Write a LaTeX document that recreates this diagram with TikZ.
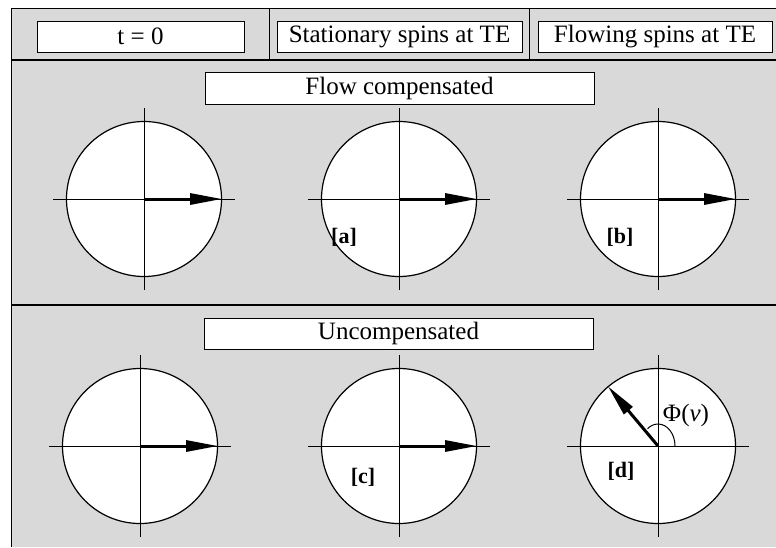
\documentclass[tikz,border=0pt]{standalone}
\usepackage{fontspec}
\setmainfont{Liberation Serif}
\usetikzlibrary{arrows.meta}
\definecolor{panel}{HTML}{D9D9D9}
\begin{document}
\begin{tikzpicture}[x=1pt,y=-1pt,
  labelbox/.style={draw=black, line width=1pt, fill=white, inner sep=0pt,
    font=\fontsize{25}{30}\selectfont},
  spinring/.style={circle, draw=black, line width=1.2pt, fill=white,
    minimum size=155pt, inner sep=0pt},
  axisline/.style={line width=1pt},
  spin/.style={line width=3pt, -{Triangle[length=32pt,width=11pt]}},
  tag/.style={font=\fontsize{22}{26}\selectfont\bfseries},
]
\useasboundingbox (0,0) rectangle (776,547);
% panel background and frame
\fill[panel] (11,8) rectangle (776,547);
\draw[line width=1pt] (776,8) -- (11,8) -- (11,547);
\draw[line width=1.5pt] (11,60) -- (776,60);
\draw[line width=2.2pt] (11,305) -- (776,305);
\draw[line width=1pt] (269,8) -- (269,60);
\draw[line width=1pt] (529,8) -- (529,60);

% column headings
\node[labelbox, minimum width=207pt, minimum height=31pt] (h1) at (140.5,36.5) {t = 0};
\node[labelbox, minimum width=245pt, minimum height=31pt] (h2) at (399.5,36.5) {Stationary spins at TE};
\node[labelbox, minimum width=234pt, minimum height=31pt] (h3) at (655,36.5) {Flowing spins at TE};

% row headings
\node[labelbox, minimum width=389pt, minimum height=32pt] (r1) at (399.5,88) {Flow compensated};
\node[labelbox, minimum width=389pt, minimum height=31pt] (r2) at (398.5,333.5) {Uncompensated};

% phase circles
\node[spinring] (c11) at (144,199) {};
\node[spinring] (c12) at (399,199) {};
\node[spinring] (c13) at (658,199) {};
\node[spinring] (c21) at (140,446) {};
\node[spinring] (c22) at (399,446) {};
\node[spinring] (c23) at (658,446) {};

% axes through each circle
\foreach \c in {c11,c12,c13,c21,c22,c23}{
  \draw[axisline] ([xshift=-91pt]\c.center) -- ([xshift=91pt]\c.center);
  \draw[axisline] ([yshift=91pt]\c.center) -- ([yshift=-91pt]\c.center);
}

% magnetisation vectors
\foreach \c in {c11,c12,c13,c21,c22}{
  \draw[spin] (\c.center) -- (\c.east);
}
\draw[spin] (c23.center) -- (c23.130);
\draw[line width=1pt] (c23.center) ++(17,0) arc[start angle=0, end angle=-128, x radius=17, y radius=22];
\node[font=\fontsize{25}{30}\selectfont] (phi) at (686,415) {Φ(\textit{v})};

% panel tags
\node[tag] (ta) at (344,237) {[a]};
\node[tag] (tb) at (620,237) {[b]};
\node[tag] (tc) at (363,477) {[c]};
\node[tag] (td) at (621,471) {[d]};
\end{tikzpicture}
\end{document}
